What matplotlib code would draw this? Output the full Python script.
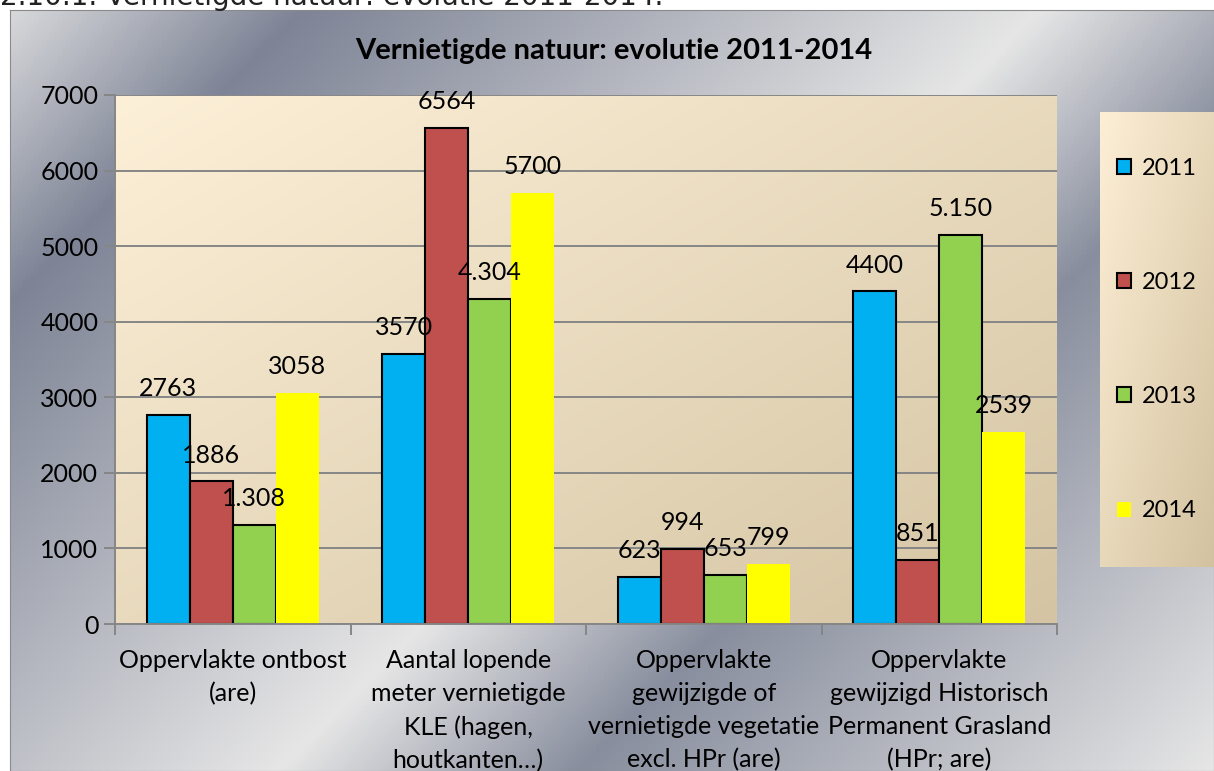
import numpy as np
import matplotlib
matplotlib.use("Agg")
import matplotlib.pyplot as plt
from matplotlib.patches import Patch
from matplotlib.colors import to_rgb

plt.rcParams["font.family"] = ["Lato", "DejaVu Sans"]

W, H = 1214, 771

categories = [
    "Oppervlakte ontbost\n(are)",
    "Aantal lopende\nmeter vernietigde\nKLE (hagen,\nhoutkanten…)",
    "Oppervlakte\ngewijzigde of\nvernietigde vegetatie\nexcl. HPr (are)",
    "Oppervlakte\ngewijzigd Historisch\nPermanent Grasland\n(HPr; are)",
]
years = ["2011", "2012", "2013", "2014"]
v2011 = [2763, 3570, 623, 4400]
v2012 = [1886, 6564, 994, 851]
v2013 = [1308, 4304, 653, 5150]
v2014 = [3058, 5700, 799, 2539]
lab2011 = ["2763", "3570", "623", "4400"]
lab2012 = ["1886", "6564", "994", "851"]
lab2013 = ["1.308", "4.304", "653", "5.150"]
lab2014 = ["3058", "5700", "799", "2539"]

series = [v2011, v2012, v2013, v2014]
labels = [lab2011, lab2012, lab2013, lab2014]
colors = ["#00B0F0", "#C0504D", "#92D050", "#FFFF00"]
edges = ["black", "black", "black", "none"]
FS = 18


def mix(c1, c2, t):
    a, b = np.array(to_rgb(c1)), np.array(to_rgb(c2))
    return a[None, None, :] * (1 - t[..., None]) + b[None, None, :] * t[..., None]


fig = plt.figure(figsize=(W / 100, H / 100), dpi=100)
fig.patch.set_facecolor("white")

# metallic chart background
bg = fig.add_axes([10 / W, 0, 1 - 10 / W, 1 - 10 / H])
xx, yy = np.meshgrid(np.linspace(10, W, 300), np.linspace(10, H, 200))
s = xx + yy
t = np.interp(s, [0, 310, 650, 1050, 1350, 1985], [0.92, 0.0, 0.45, 1.0, 0.1, 1.0])
bg.imshow(mix("#7E8496", "#E6E6E6", t), aspect="auto", extent=[0, 1, 0, 1])
bg.set_xticks([])
bg.set_yticks([])
for sp in bg.spines.values():
    sp.set_color("#8A8A8A")

# caption above the chart, cut off by the top edge as in the source
fig.text(0, 1 - 5 / H, "2.10.1. Vernietigde natuur: evolutie 2011-2014.",
         family="DejaVu Sans", fontsize=20, color="#222222", va="baseline")

fig.text(614 / W, 1 - 51 / H, "Vernietigde natuur: evolutie 2011-2014",
         fontsize=21, fontweight="bold", ha="center", va="center")

# plot area
ax = fig.add_axes([115 / W, 1 - 624 / H, 942 / W, 529 / H])
ax.patch.set_visible(False)
u, v = np.meshgrid(np.linspace(0, 1, 200), np.linspace(0, 1, 200))
g = (u + v) / 2
ax.imshow(mix("#FDF0D8", "#D4C4A3", g), aspect="auto", extent=[0, 1, 0, 1],
          transform=ax.transAxes, zorder=0)

x = np.arange(len(categories))
w = 0.1826
for i, vals in enumerate(series):
    pos = x + (i - 1.5) * w
    ax.bar(pos, vals, w, color=colors[i], edgecolor=edges[i], linewidth=1.5, zorder=2)
    for px, val, lb in zip(pos, vals, labels[i]):
        ax.annotate(lb, (px, val), xytext=(0, 19), textcoords="offset points",
                    ha="center", va="center", fontsize=FS, zorder=3)

ax.set_xlim(-0.5, 3.5)
ax.set_ylim(0, 7000)
ax.set_yticks(np.arange(0, 7001, 1000))
ax.yaxis.grid(True, color="#868686", linewidth=1.4)
ax.set_axisbelow(True)
ax.set_xticks(x)
ax.set_xticklabels(categories, fontsize=18, linespacing=1.52)
ax.set_xticks(np.arange(-0.5, 4, 1), minor=True)
ax.tick_params(axis="x", which="major", length=0, pad=18)
ax.tick_params(axis="x", which="minor", length=8, width=1.4, color="#868686")
ax.tick_params(axis="y", length=8, width=1.4, color="#868686", labelsize=FS, pad=4)
for side in ["top", "right"]:
    ax.spines[side].set_visible(False)
for side in ["left", "bottom"]:
    ax.spines[side].set_color("#868686")
    ax.spines[side].set_linewidth(1.4)

# legend box
lax = fig.add_axes([1100 / W, 1 - 567 / H, 114 / W, 455 / H])
lax.imshow(mix("#FDEFD6", "#D3C2A0", g), aspect="auto", extent=[0, 1, 0, 1])
lax.axis("off")
handles = [Patch(facecolor=c, edgecolor=e, linewidth=1.5) for c, e in zip(colors, edges)]
lax.legend(handles, years, loc="center", frameon=False, fontsize=17,
           labelspacing=3.95, handlelength=0.6, handleheight=0.6, handletextpad=0.45)

fig.savefig("out.png", dpi=100)
